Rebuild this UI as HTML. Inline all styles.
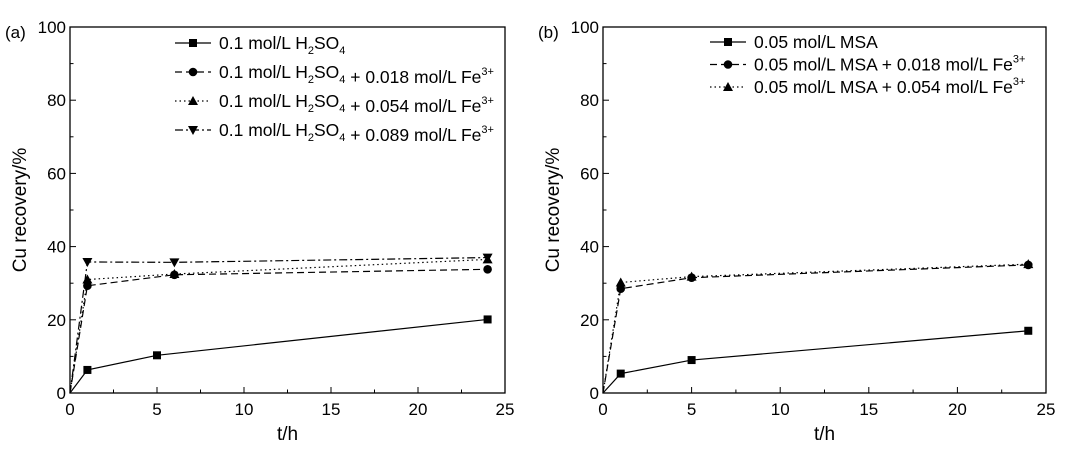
<!DOCTYPE html>
<html><head><meta charset="utf-8"><style>
html,body{margin:0;padding:0;background:#fff;}
svg{display:block;font-family:"Liberation Sans",Arial,sans-serif;}
</style></head><body>
<svg id="s" width="1071" height="449" xmlns="http://www.w3.org/2000/svg"></svg>
<script>
const s=document.getElementById('s');let h='';
function panel(x0,x1,y0,y1,lab,series,leg){
  const X=v=>x0+(x1-x0)*v/25, Y=v=>y0-(y0-y1)*v/100;
  h+=`<rect x="${x0}" y="${y1}" width="${x1-x0}" height="${y0-y1}" fill="none" stroke="#000" stroke-width="1.3"/>`;
  for(let v=0;v<=25;v+=2.5){const maj=v%5==0;h+=`<line x1="${X(v)}" x2="${X(v)}" y1="${y0}" y2="${y0-(maj?6:3.5)}" stroke="#000"/>`;
    if(maj)h+=`<text x="${X(v)}" y="${y0+22}" font-size="17" text-anchor="middle">${v}</text>`;}
  for(let v=0;v<=100;v+=10){const maj=v%20==0;h+=`<line x1="${x0}" x2="${x0+(maj?6:3.5)}" y1="${Y(v)}" y2="${Y(v)}" stroke="#000"/>`;
    if(maj)h+=`<text x="${x0-4}" y="${Y(v)+6}" font-size="17" text-anchor="end">${v}</text>`;}
  h+=`<text x="${x0-65}" y="${y1+11}" font-size="17">${lab}</text>`;
  h+=`<text x="${(x0+x1)/2}" y="${y0+47}" font-size="19" text-anchor="middle">t/h</text>`;
  h+=`<text transform="translate(${x0-44},${(y0+y1)/2}) rotate(-90)" font-size="19" text-anchor="middle">Cu recovery/%</text>`;
  const mk=(t,x,y)=>{if(t=='s')return `<rect x="${x-4}" y="${y-4}" width="8" height="8"/>`;
    if(t=='c')return `<circle cx="${x}" cy="${y}" r="4.3"/>`;
    if(t=='u')return `<polygon points="${x},${y-5} ${x-5},${y+4} ${x+5},${y+4}"/>`;
    return `<polygon points="${x},${y+5} ${x-5},${y-4} ${x+5},${y-4}"/>`;};
  series.forEach(se=>{
    h+=`<polyline fill="none" stroke="#000" stroke-width="1.2" stroke-dasharray="${se.d}" points="${se.p.map(p=>X(p[0])+','+Y(p[1])).join(' ')}"/>`;
    se.p.slice(1).forEach(p=>h+=mk(se.m,X(p[0]),Y(p[1])));
  });
  leg.rows.forEach((r,i)=>{const y=leg.y+i*leg.dy;const se=series[i];
    h+=`<line x1="${leg.x}" x2="${leg.x+36}" y1="${y}" y2="${y}" stroke="#000" stroke-width="1.2" stroke-dasharray="${se.d}"/>`;
    h+=mk(se.m,leg.x+18,y);
    h+=`<text x="${leg.x+44}" y="${y+6}" font-size="17.5">${r}</text>`;});
}
const H='H<tspan font-size="11" dy="5">2</tspan><tspan dy="-5">SO</tspan><tspan font-size="11" dy="5">4</tspan><tspan dy="-5"></tspan>';
const F='Fe<tspan font-size="11" dy="-8">3+</tspan>';
panel(70,505,393,27,'(a)',[
 {m:'s',d:'',p:[[0,0],[1,6.3],[5,10.3],[24,20.1]]},
 {m:'c',d:'7 4',p:[[0,0],[1,29.3],[6,32.3],[24,33.8]]},
 {m:'u',d:'1.5 3',p:[[0,0],[1,31],[6,32.5],[24,36.5]]},
 {m:'d',d:'8 3 2 3',p:[[0,0],[1,35.8],[6,35.7],[24,37]]}],
 {x:175,y:43,dy:29,rows:['0.1 mol/L '+H,'0.1 mol/L '+H+' + 0.018 mol/L '+F,'0.1 mol/L '+H+' + 0.054 mol/L '+F,'0.1 mol/L '+H+' + 0.089 mol/L '+F]});
panel(603,1046,393,27,'(b)',[
 {m:'s',d:'',p:[[0,0],[1,5.3],[5,9],[24,17]]},
 {m:'c',d:'7 4',p:[[0,0],[1,28.5],[5,31.5],[24,35]]},
 {m:'u',d:'1.5 3',p:[[0,0],[1,30.2],[5,31.8],[24,35.2]]}],
 {x:710,y:42,dy:22.5,rows:['0.05 mol/L MSA','0.05 mol/L MSA + 0.018 mol/L '+F,'0.05 mol/L MSA + 0.054 mol/L '+F]});
s.innerHTML=h;
</script>
</body></html>
